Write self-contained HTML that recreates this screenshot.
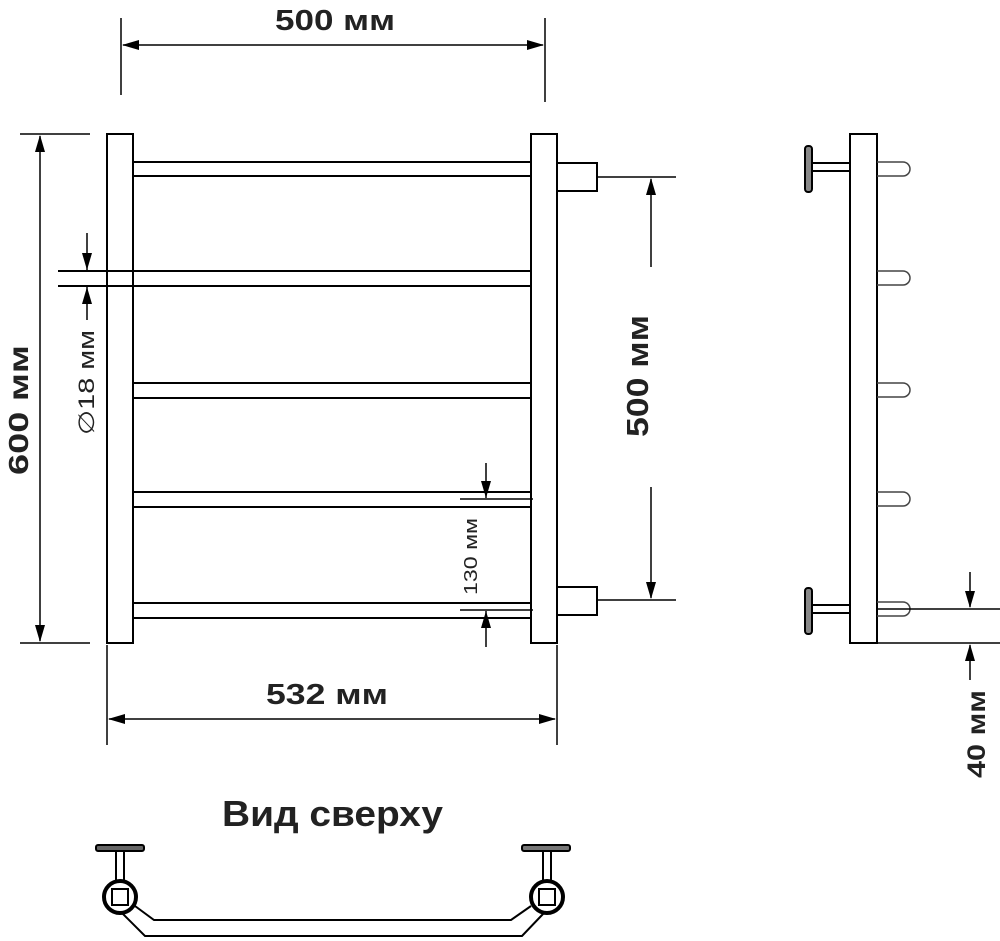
<!DOCTYPE html>
<html><head><meta charset="utf-8"><style>
html,body{margin:0;padding:0;background:#fff}
svg{display:block}
text{font-family:"Liberation Sans",sans-serif;fill:#222}
</style></head><body>
<svg width="1000" height="941" viewBox="0 0 1000 941" xmlns="http://www.w3.org/2000/svg">
<g stroke="#000" stroke-width="2" fill="none">
<rect x="107" y="134" width="26" height="509" fill="#fff"/>
<rect x="531" y="134" width="26" height="509" fill="#fff"/>
<path d="M133 162H531M133 176H531M133 271H531M133 286H531M133 383H531M133 398H531M133 492H531M133 507H531M133 603H531M133 618H531"/>
<path d="M557 163H597V191H557"/>
<path d="M557 587H597V615H557"/>
<path d="M597 177H676M597 600H676" stroke-width="1.5"/>
<path d="M121 18V95M545 18V102" stroke-width="1.5"/>
<path d="M123 45H543" stroke-width="1.5"/>
<path d="M20 134H90M20 643H90" stroke-width="1.5"/>
<path d="M40 136V641" stroke-width="1.5"/>
<path d="M58 271H133M58 286H133"/>
<path d="M87 233V270M87 320V287" stroke-width="1.5"/>
<path d="M651 267V179M651 487V598" stroke-width="1.5"/>
<path d="M460 499H533M460 610H533" stroke-width="1.5"/>
<path d="M486 463V498M486 647V611" stroke-width="1.5"/>
<path d="M107 645V745M557 645V745" stroke-width="1.5"/>
<path d="M109 719H555" stroke-width="1.5"/>
<rect x="850" y="134" width="27" height="509" fill="#fff"/>
<g stroke-width="1.5" stroke="#444">
<path d="M877 162H903A7 7 0 0 1 903 176H877"/>
<path d="M877 271H903A7 7 0 0 1 903 285H877"/>
<path d="M877 383H903A7 7 0 0 1 903 397H877"/>
<path d="M877 492H903A7 7 0 0 1 903 506H877"/>
<path d="M877 602H903A7 7 0 0 1 903 616H877"/>
</g>
<rect x="805" y="146" width="7" height="46" rx="3" fill="#888"/>
<rect x="812" y="163" width="38" height="8" fill="#fff"/>
<rect x="805" y="588" width="7" height="46" rx="3" fill="#888"/>
<rect x="812" y="605" width="38" height="8" fill="#fff"/>
<path d="M877 609H1000M877 643H1000" stroke-width="1.5"/>
<path d="M970 572V607M970 680V645" stroke-width="1.5"/>
<rect x="96" y="845" width="48" height="6" rx="2" fill="#666"/>
<rect x="116" y="851" width="8" height="30" fill="#fff"/>
<circle cx="120" cy="897" r="16" fill="#fff" stroke-width="4"/>
<rect x="112" y="889" width="16" height="16"/>
<rect x="522" y="845" width="48" height="6" rx="2" fill="#777"/>
<rect x="543" y="851" width="8" height="30" fill="#fff"/>
<circle cx="547" cy="897" r="16" fill="#fff" stroke-width="4"/>
<rect x="539" y="889" width="16" height="16"/>
<path d="M135 906L154 920H511L531 906"/>
<path d="M122 913L145 936H522L543 914"/>
</g>
<g fill="#000">
<!-- 500 top -->
<polygon points="122,45 139,40 139,50"/><polygon points="544,45 527,40 527,50"/>
<!-- 600 -->
<polygon points="40,135 35,152 45,152"/><polygon points="40,642 35,625 45,625"/>
<!-- 18 -->
<polygon points="87,270 82,253 92,253"/><polygon points="87,287 82,304 92,304"/>
<!-- 500 right -->
<polygon points="651,178 646,195 656,195"/><polygon points="651,599 646,582 656,582"/>
<!-- 130 -->
<polygon points="486,498 481,481 491,481"/><polygon points="486,611 481,628 491,628"/>
<!-- 532 -->
<polygon points="108,719 125,714 125,724"/><polygon points="556,719 539,714 539,724"/>
<!-- 40 -->
<polygon points="970,608 965,591 975,591"/><polygon points="970,644 965,661 975,661"/>
</g>
<g font-weight="bold">
<text x="275" y="30" font-size="29" textLength="120" lengthAdjust="spacingAndGlyphs">500 мм</text>
<text x="266" y="704" font-size="29" textLength="122" lengthAdjust="spacingAndGlyphs">532 мм</text>
<text x="222" y="826" font-size="36" textLength="221" lengthAdjust="spacingAndGlyphs">Вид сверху</text>
<text transform="translate(28,475) rotate(-90)" font-size="28" textLength="130" lengthAdjust="spacingAndGlyphs">600 мм</text>
<text transform="translate(648,437) rotate(-90)" font-size="31" textLength="122" lengthAdjust="spacingAndGlyphs">500 мм</text>
<text transform="translate(985,778) rotate(-90)" font-size="25" textLength="88" lengthAdjust="spacingAndGlyphs">40 мм</text>
</g>
<text transform="translate(94,435) rotate(-90)" font-size="22" textLength="105" lengthAdjust="spacingAndGlyphs">∅18 мм</text>
<text transform="translate(477,595) rotate(-90)" font-size="18" textLength="77" lengthAdjust="spacingAndGlyphs">130 мм</text>
</svg>
</body></html>
